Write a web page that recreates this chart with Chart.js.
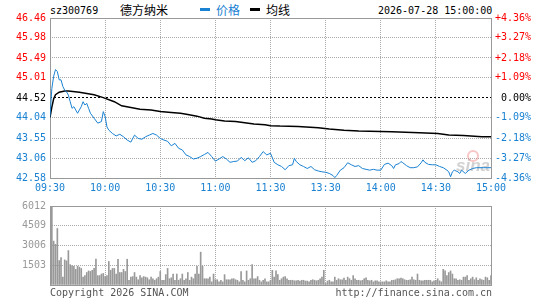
<!DOCTYPE html>
<html>
<head>
<meta charset="utf-8">
<script src="https://cdn.jsdelivr.net/npm/chart.js@4.4.1/dist/chart.umd.min.js"></script>
<style>
  body { margin: 0; background: #fff; }
  #wrap { position: relative; width: 545px; height: 300px; overflow: hidden; }
  .t { position: absolute; white-space: nowrap; font-family: 'DejaVu Sans Mono', monospace; font-size: 10px; line-height: 10px; }
  .cn { position: absolute; white-space: nowrap; font-family: 'Noto Sans CJK SC', sans-serif; font-size: 12px; line-height: 12px; }
  .key { position: absolute; width: 10px; height: 3px; }
  canvas { position: absolute; left: 0; }
</style>
</head>
<body>
<div id="wrap">
  <div class="t" style="left:50px; top:6px;">sz300769</div>
  <div class="cn" style="left:120px; top:4px;">德方纳米</div>
  <div class="key" style="left:200px; top:8px; background:#1a82d2;"></div>
  <div class="cn" style="left:216px; top:4px; color:#1a82d2;">价格</div>
  <div class="key" style="left:250px; top:8px; background:#000;"></div>
  <div class="cn" style="left:266px; top:4px;">均线</div>
  <div class="t" style="left:378px; top:6px;">2026-07-28 15:00:00</div>
  <canvas id="price" width="545" height="196" style="top:0;"></canvas>
  <canvas id="vol" width="545" height="104" style="top:196px;"></canvas>
  <div class="t" style="left:50px; top:288px; color:#555;">Copyright 2026 SINA.COM</div>
  <div class="t" style="right:53px; top:288px; color:#555;">http://finance.sina.com.cn</div>
</div>
<script>
// minute index from 09:30 (0) to 15:00 (240), lunch break removed
const timeTicks = [0, 30, 60, 90, 120, 150, 180, 210, 240];
const timeLabels = ['09:30', '10:00', '10:30', '11:00', '11:30', '13:30', '14:00', '14:30', '15:00'];

const prevClose = 44.52;
const priceTicks = [42.58, 43.06, 43.55, 44.04, 44.52, 45.01, 45.49, 45.98, 46.46];
const pctLabels = ['-4.36%', '-3.27%', '-2.18%', '-1.09%', ' 0.00%', '+1.09%', '+2.18%', '+3.27%', '+4.36%'];

const priceMinutes = [
  0, 1, 2, 3, 4, 5, 6, 7, 8, 9, 10, 11, 12, 13, 14, 15, 16, 17, 18, 19, 20, 21, 22,
  24, 26, 28, 29, 30, 31, 32, 34, 36, 38, 40, 42, 44, 46, 48, 50, 52, 54, 56, 58, 60,
  62, 64, 66, 68, 70, 72, 74, 76, 78, 80, 82, 84, 86, 88, 90, 92, 94, 96, 98, 100,
  102, 104, 106, 108, 110, 112, 114, 116, 118, 120,
  122, 124, 126, 128, 130, 132, 133, 134, 136, 138, 140, 142, 144, 146, 148, 150,
  152, 154, 155, 156, 158, 160, 162, 164, 166, 168, 170, 172, 174, 176, 178, 180,
  182, 184, 186, 187, 188, 190, 191, 192, 194, 196, 198, 200, 202, 203, 204, 206,
  208, 210, 212, 214, 216, 217, 218, 219, 220, 222, 223, 224, 226, 228, 230, 232,
  234, 236, 238, 240
];
const priceValues = [
  44.07, 44.75, 45.05, 45.21, 45.16, 44.96, 44.96, 44.80, 44.71, 44.67, 44.59, 44.43, 44.27, 44.31, 44.23, 44.15, 44.23, 44.31, 44.43, 44.35, 44.39, 44.27, 44.15,
  44.03, 43.91, 43.95, 44.19, 44.07, 43.82, 43.74, 43.66, 43.60, 43.64, 43.58, 43.50, 43.45, 43.62, 43.54, 43.52, 43.58, 43.62, 43.66, 43.62, 43.54,
  43.50, 43.47, 43.36, 43.42, 43.30, 43.26, 43.14, 43.10, 43.04, 43.06, 43.10, 43.15, 43.20, 43.10, 42.99, 43.04, 43.10, 43.04, 42.96, 42.98,
  42.99, 43.08, 43.00, 43.07, 42.96, 43.00, 43.10, 43.22, 43.14, 43.18,
  42.96, 42.90, 42.86, 42.78, 42.88, 42.90, 43.06, 42.98, 42.90, 42.86, 42.81, 42.86, 42.78, 42.75, 42.73, 42.72,
  42.69, 42.64, 42.59, 42.64, 42.77, 42.83, 42.95, 42.90, 42.86, 42.88, 42.81, 42.79, 42.77, 42.79, 42.77, 42.77,
  42.91, 42.94, 42.88, 42.81, 42.90, 42.93, 42.98, 42.95, 42.88, 42.83, 42.83, 42.85, 42.95, 43.02, 42.96, 42.91,
  42.90, 42.90, 42.86, 42.83, 42.77, 42.73, 42.61, 42.73, 42.77, 42.73, 42.69, 42.77, 42.69, 42.77, 42.81, 42.83,
  42.83, 42.83, 42.83, 42.83
];

const avgMinutes = [0, 1, 2, 3, 5, 8, 10, 16, 24, 29, 35, 39, 44, 49, 55, 60, 66, 71, 75, 80,
  84, 88, 90, 95, 101, 106, 111, 117, 120, 125, 135, 146, 152, 160, 168, 186, 201, 211, 217, 225, 235, 240];
const avgValues = [44.05, 44.30, 44.50, 44.60, 44.66, 44.69, 44.69, 44.66, 44.60, 44.53, 44.43, 44.33, 44.29, 44.25, 44.23, 44.19, 44.17, 44.15, 44.12, 44.08,
  44.03, 44.01, 43.99, 43.96, 43.95, 43.92, 43.89, 43.87, 43.85, 43.84, 43.83, 43.80, 43.77, 43.74, 43.72, 43.70, 43.68, 43.66, 43.62, 43.61, 43.58, 43.58];

const volTicks = [0, 1503, 3006, 4509, 6012];
// one bar per minute, 0..240
const volumes = [
  1550, 6012, 3340, 3100, 4300, 1860, 2080, 600, 1910, 1840,
  2620, 1550, 1480, 1430, 1190, 1430, 1360, 1260, 600, 716,
  950, 1070, 1030, 1120, 1260, 1980, 716, 716, 835, 880,
  640, 716, 1790, 1120, 1260, 1260, 835, 1960, 950, 950,
  1190, 1030, 1960, 360, 600, 640, 950, 600, 400, 716,
  550, 640, 600, 550, 400, 600, 477, 360, 477, 600,
  1030, 360, 360, 790, 1260, 477, 550, 835, 360, 835,
  360, 477, 835, 360, 477, 950, 360, 600, 477, 835,
  1430, 835, 2500, 1430, 477, 477, 477, 600, 240, 835,
  400, 400, 240, 360, 240, 790, 400, 400, 400, 477,
  477, 400, 360, 240, 1030, 360, 240, 1070, 360, 477,
  1550, 477, 477, 640, 360, 240, 360, 477, 240, 240,
  360,
  1120, 600, 1070, 790, 360, 477, 600, 640, 477, 360,
  360, 360, 320, 320, 360, 300, 360, 360, 300, 300,
  240, 360, 400, 360, 320, 360, 477, 600, 1120, 120,
  300, 360, 240, 240, 600, 360, 477, 400, 400, 520,
  360, 600, 477, 360, 716, 477, 360, 360, 320, 360,
  477, 550, 360, 320, 360, 240, 320, 320, 240, 240,
  240, 240, 320, 240, 240, 360, 360, 400, 477, 477,
  520, 477, 400, 360, 360, 400, 600, 400, 360, 835,
  360, 320, 320, 360, 360, 360, 360, 240, 320, 360,
  477, 320, 240, 1190, 1070, 716, 950, 1070, 835, 477,
  477, 360, 400, 360, 600, 600, 716, 360, 477, 600,
  400, 550, 360, 477, 400, 360, 600, 550, 360, 716
];

const BLUE = '#1a82d2';
const RED = '#ff0000';
const GRID = '#aaaaaa';
const FRAME = '#999999';
const MONO = { family: "'DejaVu Sans Mono', monospace", size: 10 };

// solid frame round the plot area, drawn over the dotted edge grid lines
const framePlugin = {
  id: 'frame',
  beforeDatasetsDraw(chart) {
    const { ctx, chartArea: a } = chart;
    ctx.save();
    ctx.strokeStyle = FRAME;
    ctx.lineWidth = 1;
    ctx.setLineDash([]);
    ctx.strokeRect(Math.round(a.left) + 0.5, Math.round(a.top) + 0.5, Math.round(a.right - a.left), Math.round(a.bottom - a.top));
    ctx.restore();
  }
};

// faint sina mark in the lower right corner of the price panel
const watermarkPlugin = {
  id: 'watermark',
  beforeDatasetsDraw(chart) {
    const { ctx, chartArea: a } = chart;
    ctx.save();
    ctx.globalAlpha = 0.45;
    ctx.strokeStyle = '#f08080';
    ctx.lineWidth = 2;
    ctx.beginPath();
    ctx.arc(a.right - 18, a.bottom - 22, 5, 0, Math.PI * 2);
    ctx.stroke();
    ctx.fillStyle = '#999';
    ctx.font = "italic bold 17px 'Liberation Sans', sans-serif";
    ctx.textAlign = 'right';
    ctx.fillText('sina', a.right - 1, a.bottom - 7);
    ctx.restore();
  }
};

const setTicks = (list) => (scale) => { scale.ticks = list.map(v => ({ value: v })); };
const sideColor = (ctx) => ctx.index < 4 ? BLUE : (ctx.index === 4 ? '#000' : RED);

new Chart(document.getElementById('price'), {
  type: 'line',
  data: {
    datasets: [
      {
        label: '价格',
        data: priceMinutes.map((m, i) => ({ x: m, y: priceValues[i] })),
        borderColor: BLUE,
        borderWidth: 1,
        pointRadius: 0,
        tension: 0
      },
      {
        label: '均线',
        data: avgMinutes.map((m, i) => ({ x: m, y: avgValues[i] })),
        borderColor: '#000',
        borderWidth: 1.5,
        pointRadius: 0,
        tension: 0
      }
    ]
  },
  options: {
    responsive: false,
    animation: false,
    layout: { padding: { top: 18, left: 0, right: 0, bottom: 0 } },
    plugins: { legend: { display: false }, tooltip: { enabled: false } },
    scales: {
      x: {
        type: 'linear', min: 0, max: 240,
        afterBuildTicks: setTicks(timeTicks),
        afterFit: s => { s.height = 18; },
        ticks: { color: BLUE, font: MONO, padding: 4, maxRotation: 0, autoSkip: false, callback: (v, i) => timeLabels[i] },
        grid: { color: GRID, drawTicks: false, tickLength: 0 },
        border: { display: false, dash: [1, 1] }
      },
      y: {
        position: 'left', min: priceTicks[0], max: priceTicks[priceTicks.length - 1],
        afterBuildTicks: setTicks(priceTicks),
        afterFit: s => { s.width = 50; },
        ticks: { color: sideColor, font: MONO, padding: 4, callback: v => v.toFixed(2) },
        grid: { color: ctx => ctx.tick && ctx.tick.value === prevClose ? '#000' : GRID, drawTicks: false, tickLength: 0 },
        border: { display: false, dash: ctx => ctx.tick && ctx.tick.value === prevClose ? [2, 2] : [1, 1] }
      },
      y2: {
        position: 'right', min: priceTicks[0], max: priceTicks[priceTicks.length - 1],
        afterBuildTicks: setTicks(priceTicks),
        afterFit: s => { s.width = 54; },
        ticks: { color: sideColor, font: MONO, padding: 4, callback: (v, i) => pctLabels[i] },
        grid: { display: false, drawTicks: false, tickLength: 0 },
        border: { display: false }
      }
    }
  },
  plugins: [framePlugin, watermarkPlugin]
});

new Chart(document.getElementById('vol'), {
  type: 'bar',
  data: {
    datasets: [{
      data: volumes.map((v, i) => ({ x: i, y: v })),
      backgroundColor: '#999999',
      barThickness: 1,
      borderWidth: 0
    }]
  },
  options: {
    responsive: false,
    animation: false,
    layout: { padding: { top: 5, left: 0, right: 54, bottom: 15 } },
    plugins: { legend: { display: false }, tooltip: { enabled: false } },
    scales: {
      x: {
        type: 'linear', min: 0, max: 240, offset: false,
        afterBuildTicks: setTicks(timeTicks),
        afterFit: s => { s.height = 0; },
        ticks: { display: false },
        grid: { color: GRID, drawTicks: false, tickLength: 0, offset: false },
        border: { display: false, dash: [1, 1] }
      },
      y: {
        min: 0, max: 6012,
        afterBuildTicks: setTicks(volTicks),
        afterFit: s => { s.width = 50; },
        ticks: { color: '#999999', font: MONO, padding: 4, callback: v => v === 0 ? '' : String(v) },
        grid: { color: GRID, drawTicks: false, tickLength: 0 },
        border: { display: false, dash: [1, 1] }
      }
    }
  },
  plugins: [framePlugin]
});
</script>
</body>
</html>
